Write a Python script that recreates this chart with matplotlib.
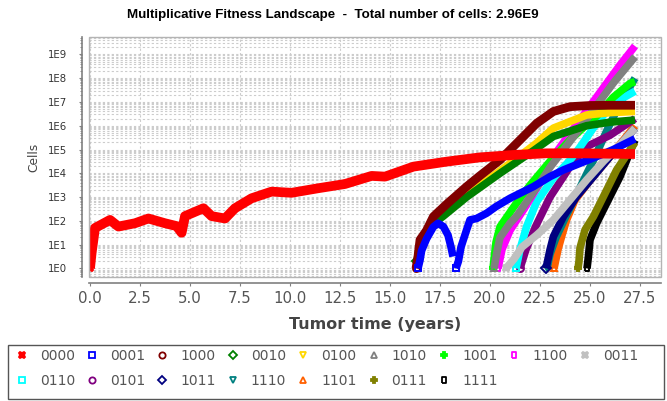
import matplotlib
matplotlib.use('Agg')
import matplotlib.pyplot as plt
import numpy as np
from matplotlib.lines import Line2D
from matplotlib.patches import Rectangle
from matplotlib.ticker import LogLocator, MultipleLocator, FuncFormatter, NullFormatter

# legend order of the genotypes
genotypes = ['0000', '0001', '1000', '0010', '0100', '1010', '1001', '1100', '0011',
             '0110', '0101', '1011', '1110', '1101', '0111', '1111']

colors = ['#ff0000', '#0000ff', '#800000', '#008000', '#ffd700', '#808080', '#00ff00', '#ff00ff', '#c0c0c0',
          '#00ffff', '#800080', '#000080', '#008080', '#ff6000', '#808000', '#000000']

vrect = [(-0.5, -1), (0.5, -1), (0.5, 1), (-0.5, 1), (-0.5, -1)]
markers = ['X', 's', 'o', 'D', 'v', '^', 'P', vrect, 'X',
           's', 'o', 'D', 'v', '^', 'P', vrect]
hollow = [False, True, True, True, True, True, False, True, False,
          True, True, True, True, True, False, True]

# tumor time (years) and log10(cells)
t_0000 = [0.0, 0.08, 0.25, 1.0, 1.42, 2.25, 2.92, 3.75, 4.33, 4.58, 4.75, 5.67, 6.08, 6.75, 7.25,
          8.08, 9.08, 10.08, 11.4, 12.75, 14.08, 14.75, 16.17, 17.83, 19.5, 21.17, 22.83, 24.5, 27.25]
lc_0000 = [0.0, 0.65, 1.7, 2.04, 1.76, 1.9, 2.1, 1.9, 1.78, 1.5, 2.2, 2.53, 2.2, 2.1, 2.53,
           2.95, 3.23, 3.18, 3.37, 3.55, 3.89, 3.86, 4.28, 4.49, 4.67, 4.77, 4.84, 4.84, 4.81]

t_0001 = [16.4, 16.5, 16.58, 16.83, 17.17, 17.4, 17.67, 17.9, 18.05, 18.15, np.nan,
          18.3, 18.42, 18.55, 18.83, 19.0, 19.33, 19.83, 20.3, 21.0, 22.17, 23.0, 23.67, 24.5, 25.33, 26.17, 27.25]
lc_0001 = [0.0, 0.35, 0.75, 1.25, 1.75, 1.9, 1.76, 1.4, 0.9, 0.5, np.nan,
           0.0, 0.3, 0.9, 1.62, 2.04, 2.1, 2.32, 2.6, 2.95, 3.44, 3.86, 4.14, 4.42, 4.7, 5.0, 5.45]

t_1000 = [16.3, 16.4, 16.5, 16.83, 17.17, 17.83, 18.83, 19.5, 20.5, 21.5, 22.33, 23.17, 24.0, 25.0, 26.0, 27.25]
lc_1000 = [0.0, 0.5, 1.2, 1.6, 2.18, 2.7, 3.44, 3.9, 4.56, 5.4, 6.1, 6.6, 6.8, 6.85, 6.86, 6.86]

t_0010 = [16.35, 16.5, 16.9, 17.67, 18.83, 20.5, 22.17, 23.17, 24.83, 26.0, 27.25]
lc_0010 = [0.3, 1.1, 1.7, 2.2, 3.0, 4.0, 4.95, 5.55, 6.0, 6.15, 6.24]

t_0100 = [16.45, 16.6, 17.0, 17.7, 18.8, 20.5, 22.3, 23.17, 24.83, 26.0, 27.25]
lc_0100 = [0.5, 1.0, 1.7, 2.35, 3.1, 4.1, 5.25, 5.9, 6.45, 6.55, 6.6]

t_1010 = [20.2, 20.35, 20.5, 21.0, 21.33, 22.0, 22.5, 23.0, 23.67, 24.5, 25.33, 26.17, 27.25]
lc_1010 = [0.0, 0.7, 1.3, 1.9, 2.2, 3.0, 3.6, 4.25, 4.98, 5.9, 6.85, 7.8, 8.9]

t_1001 = [20.15, 20.3, 20.5, 21.2, 22.0, 23.0, 24.0, 24.7, 25.33, 26.17, 27.0, 27.25]
lc_1001 = [0.0, 1.1, 1.75, 2.6, 3.5, 4.5, 5.4, 5.95, 6.4, 7.2, 7.78, 7.85]

t_1100 = [20.4, 20.6, 21.0, 21.7, 22.5, 23.4, 24.5, 25.5, 26.5, 27.25]
lc_1100 = [0.0, 0.8, 1.6, 2.5, 3.6, 4.98, 6.25, 7.4, 8.55, 9.35]

t_0011 = [20.8, 21.2, 21.6, 22.33, 23.17, 24.0, 24.83, 25.67, 26.5, 27.25]
lc_0011 = [0.0, 0.4, 0.9, 1.4, 2.04, 2.88, 3.72, 4.5, 5.2, 5.9]

t_0110 = [21.3, 21.5, 21.83, 22.33, 23.17, 24.0, 24.5, 25.33, 26.17, 27.25]
lc_0110 = [0.0, 0.8, 1.76, 2.8, 3.8, 4.55, 5.1, 6.1, 6.94, 7.45]

t_0101 = [21.5, 21.8, 22.3, 23.0, 24.0, 24.83, 26.0, 27.25]
lc_0101 = [0.0, 0.8, 1.8, 3.0, 4.28, 5.12, 5.6, 6.3]

t_1011 = [22.8, 23.0, 23.17, 23.67, 24.33, 25.17, 26.0, 27.25]
lc_1011 = [0.0, 0.78, 1.34, 2.18, 3.02, 3.86, 4.7, 5.9]

t_1110 = [22.85, 23.0, 23.3, 23.8, 24.5, 25.2, 25.9, 26.6, 27.25]
lc_1110 = [0.0, 0.6, 1.3, 2.2, 3.4, 4.6, 5.9, 7.1, 8.0]

t_1101 = [23.2, 23.4, 23.6, 23.83, 24.25, 25.0, 26.0, 27.25]
lc_1101 = [0.0, 0.8, 1.4, 2.04, 2.88, 3.7, 4.7, 6.0]

t_0111 = [24.4, 24.45, 24.5, 24.75, 25.17, 25.67, 26.33, 27.0, 27.25]
lc_0111 = [0.0, 0.3, 0.86, 1.62, 2.18, 3.02, 4.14, 4.98, 5.3]

t_1111 = [24.85, 24.92, 25.0, 25.33, 25.83, 26.5, 27.17, 27.25]
lc_1111 = [0.0, 0.5, 1.2, 1.9, 2.74, 3.86, 5.26, 5.4]

total_cells = '2.96E9'

times = [t_0000, t_0001, t_1000, t_0010, t_0100, t_1010, t_1001, t_1100, t_0011,
         t_0110, t_0101, t_1011, t_1110, t_1101, t_0111, t_1111]
logcells = [lc_0000, lc_0001, lc_1000, lc_0010, lc_0100, lc_1010, lc_1001, lc_1100, lc_0011,
            lc_0110, lc_0101, lc_1011, lc_1110, lc_1101, lc_0111, lc_1111]

W, H = 667, 401
fig = plt.figure(figsize=(W / 100, H / 100), dpi=100)
ax = fig.add_axes([89 / W, 1 - 277 / H, (661 - 89) / W, (277 - 37) / H])

for i in range(len(genotypes)):
    lw = 7 if i == 0 else (6.3 if i == 2 else 5.5)
    tt = np.array(times[i])
    cc = 10 ** np.array(logcells[i])
    ax.plot(tt, cc, color=colors[i], lw=lw, solid_capstyle='butt', zorder=20 - i)
    # sparse markers where each clone first appears
    starts = [k for k in range(len(tt)) if not np.isnan(tt[k]) and (k == 0 or np.isnan(tt[k - 1]))]
    ax.plot(tt[starts], cc[starts], ls='none', color=colors[i], marker=markers[i], ms=5, mew=1.4,
            fillstyle='none' if hollow[i] else 'full', zorder=20 - i)

ax.set_yscale('log')
ax.set_xlim(-0.05, 28.55)
ax.set_ylim(10 ** -0.36, 10 ** 9.73)

ax.xaxis.set_major_locator(MultipleLocator(2.5))
ax.xaxis.set_major_formatter(FuncFormatter(lambda v, p: '%.1f' % v))
ax.yaxis.set_major_locator(LogLocator(base=10, numticks=20))
ax.yaxis.set_minor_locator(LogLocator(base=10, subs=np.arange(2, 10), numticks=20))
ax.yaxis.set_major_formatter(FuncFormatter(lambda v, p: '1E%d' % round(np.log10(v))))
ax.yaxis.set_minor_formatter(NullFormatter())

ax.grid(True, which='major', axis='x', color='#cccccc', linestyle=(0, (2, 2)), lw=0.8)
ax.grid(True, which='both', axis='y', color='#cccccc', linestyle=(0, (2, 2)), lw=0.8)
ax.set_axisbelow(True)

for s in ('top', 'right'):
    ax.spines[s].set_visible(False)
ax.spines['left'].set_position(('outward', 5))
ax.spines['bottom'].set_position(('outward', 4.3))
for s in ('left', 'bottom'):
    ax.spines[s].set_color('#808080')
    ax.spines[s].set_linewidth(1.2)
ax.add_patch(Rectangle((0, 0), 1, 1, transform=ax.transAxes, fill=False,
                       ec='#b4b4b4', lw=1.0, zorder=40, clip_on=False))

ax.tick_params(axis='x', which='major', length=2.5, color='#808080', labelcolor='#555555',
               labelsize=10.8, pad=3)
ax.tick_params(axis='y', which='major', length=2.5, color='#808080', labelcolor='#333333',
               labelsize=7.3, pad=8)
ax.tick_params(axis='y', which='minor', length=1.5, color='#808080')

ax.set_xlabel('Tumor time (years)', fontsize=11.5, fontweight='bold', color='#444444', labelpad=8)
ax.set_ylabel('Cells', fontsize=8.8, color='#444444', labelpad=5.5)

fig.text(333 / W, 1 - 15 / H, 'Multiplicative Fitness Landscape  -  Total number of cells: ' + total_cells,
         ha='center', va='center', fontsize=9.6, fontweight='bold',
         family=['Liberation Sans', 'DejaVu Sans'])

handles = [Line2D([], [], ls='none', color=colors[i], marker=markers[i], ms=4.5, mew=1.3,
                  fillstyle='none' if hollow[i] else 'full') for i in range(len(genotypes))]
# matplotlib fills legend columns first; reorder so the entries run along the rows
ncol = 9
order = []
for c in range(ncol):
    for r in range(2):
        k = r * ncol + c
        if k < len(genotypes):
            order.append(k)
fig.legend([handles[k] for k in order], [genotypes[k] for k in order], ncol=ncol, loc='upper left',
           bbox_to_anchor=(15 / W, 1 - 349 / H),
           frameon=False, fontsize=10, labelcolor='#555555', handlelength=1.0,
           handletextpad=0.8, columnspacing=0.72, labelspacing=0.78, borderpad=0, borderaxespad=0)
fig.patches.append(Rectangle((8 / W, 2 / H), 656 / W, 54 / H, transform=fig.transFigure,
                             fill=False, ec='#555555', lw=1.0))

fig.savefig('out.png', dpi=100)
